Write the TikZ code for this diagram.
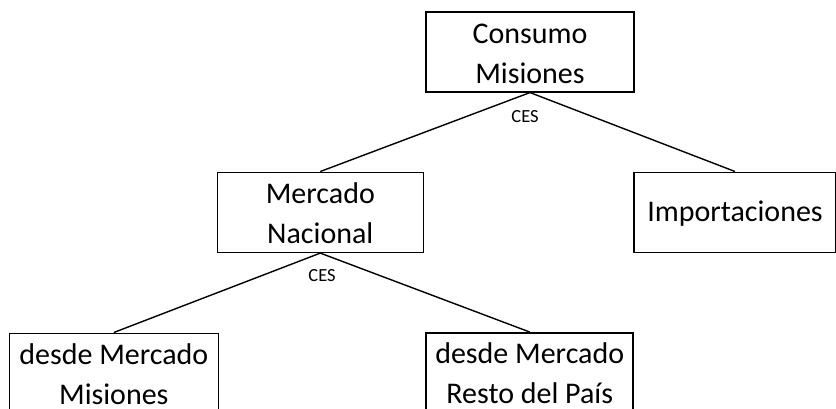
\documentclass[tikz,border=0pt]{standalone}
\usepackage{fontspec}
\setmainfont{Carlito}
\newcommand{\firststrut}{\rule{0pt}{22.5pt}}
\begin{document}
\begin{tikzpicture}[x=1pt,y=-1pt,
  box/.style={draw,line width=1.6pt,rectangle,inner sep=0pt,align=center,
    font=\fontsize{30}{40}\selectfont,minimum height=80pt},
  conn/.style={line width=1.4pt},
  lab/.style={font=\fontsize{18.5}{20}\selectfont,inner sep=0pt}]
\useasboundingbox (0,0) rectangle (836,408);
\node[box,minimum width=208pt,minimum height=79.5pt] (top) at (530,52) {\firststrut Consumo\\Misiones};
\node[box,minimum width=206pt] (nac) at (320.3,212.3) {\firststrut Mercado\\Nacional};
\node[box,minimum width=202pt] (imp) at (735,212.3) {\firststrut Importaciones};
\node[box,minimum width=209pt] (mis) at (113.8,373.3) {\firststrut desde Mercado\\Misiones};
\node[box,minimum width=207pt] (res) at (529.7,372.8) {\firststrut desde Mercado\\Resto del País};
\draw[conn] (top.south) -- (nac.north);
\draw[conn] (top.south) -- (imp.north);
\draw[conn] (nac.south) -- (mis.north);
\draw[conn] (nac.south) -- (res.north);
\node[lab] (ces1) at (525,117) {CES};
\node[lab] (ces2) at (322,275.5) {CES};
\end{tikzpicture}
\end{document}
